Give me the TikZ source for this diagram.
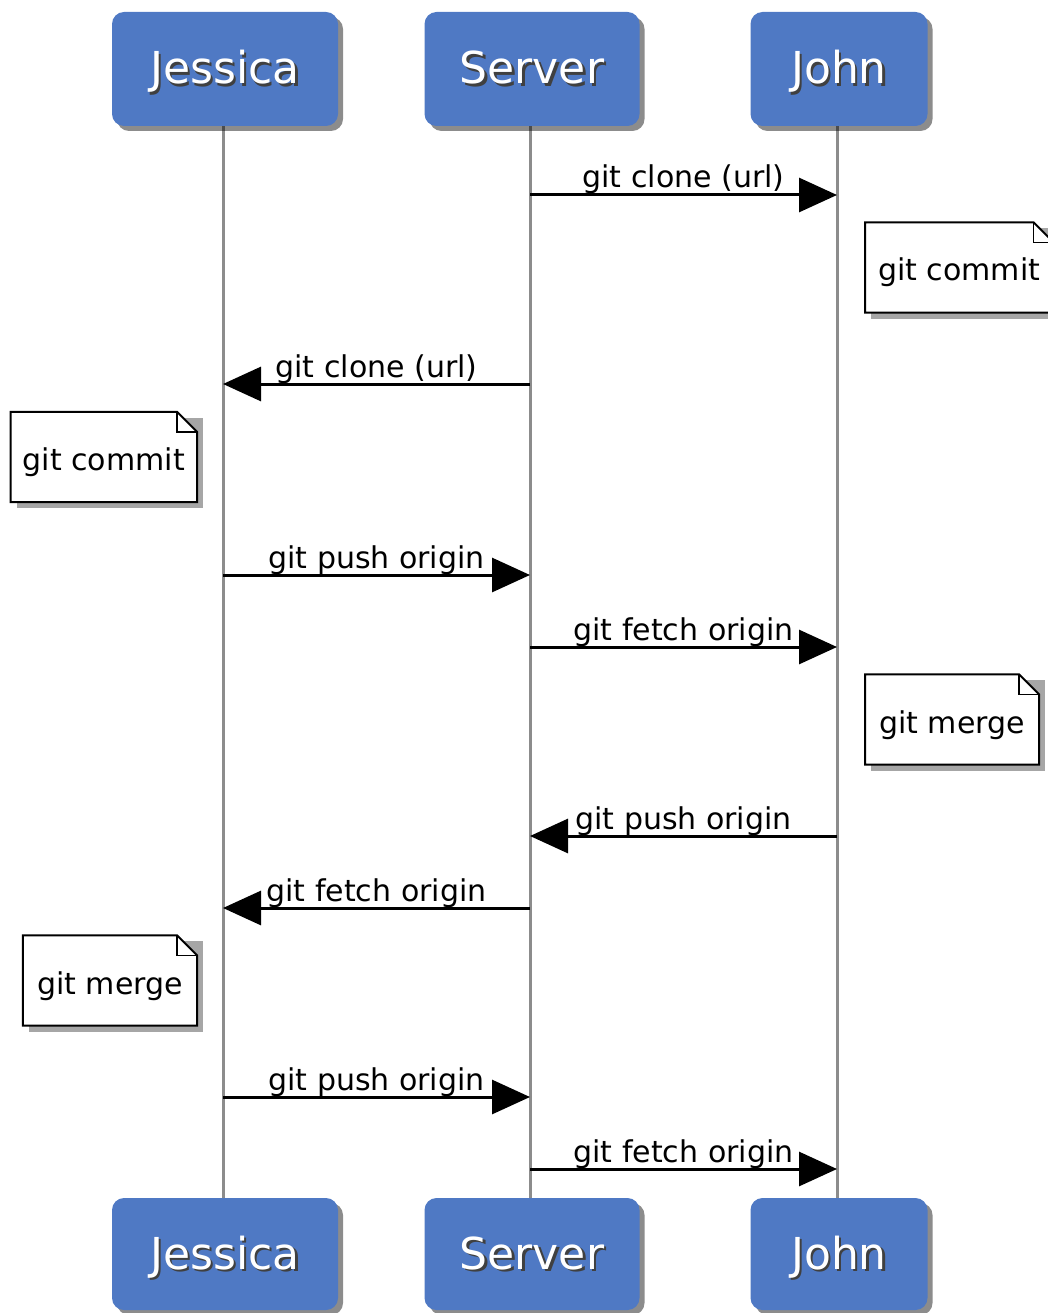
\documentclass[tikz,border=0pt]{standalone}
\usepackage{fontspec}
\setmainfont{DejaVu Sans}
\usetikzlibrary{arrows.meta,shadows,backgrounds}
\definecolor{hdr}{RGB}{79,121,196}
\definecolor{life}{RGB}{140,140,140}
\newcommand\hdrtxt[1]{{\color{black!75}\rlap{\hspace{2.5pt}\raisebox{-2.5pt}{#1}}}{\color{white}#1}}
\begin{document}
\begin{tikzpicture}[x=1pt,y=-1pt,
  actor/.style={rounded corners=12pt, fill=hdr, inner sep=0pt, minimum height=114pt,
    text height=36pt, text depth=6pt,
    font=\fontsize{44}{50}\selectfont,
    drop shadow={shadow xshift=5pt, shadow yshift=-5pt, opacity=.45, fill=black}},
  lifeline/.style={draw=life, line width=3pt},
  msg/.style={line width=3pt, -{Triangle[length=38pt,width=34pt]}},
  lbl/.style={midway, anchor=base, yshift=7pt, inner sep=0pt, font=\fontsize{30}{35}\selectfont},
  notetext/.style={inner xsep=13pt, inner ysep=0pt, minimum height=90pt,
    text height=27pt, text depth=0pt, font=\fontsize{30}{35}\selectfont},
  notebox/.style={fill=white, draw=black, line width=2pt, line join=miter},
  noteshadow/.style={fill=black, opacity=.35}
]
\useasboundingbox (0,0) rectangle (1047,1313);

% actors
\node[actor, minimum width=226pt] (jt) at (225,69) {\hdrtxt{Jessica}};
\node[actor, minimum width=215pt] (st) at (532,69) {\hdrtxt{Server}};
\node[actor, minimum width=177pt] (ht) at (839,69) {\hdrtxt{John}};
\node[actor, minimum width=226pt, minimum height=112pt] (jb) at (225,1254) {\hdrtxt{Jessica}};
\node[actor, minimum width=215pt, minimum height=112pt] (sb) at (532,1254) {\hdrtxt{Server}};
\node[actor, minimum width=177pt, minimum height=112pt] (hb) at (839,1254) {\hdrtxt{John}};

% lifeline coordinates
\coordinate (J) at (223,0);
\coordinate (S) at (530,0);
\coordinate (H) at (837,0);

\begin{scope}[on background layer]
\draw[lifeline] (J |- jt.south) -- (J |- jb.north);
\draw[lifeline] (S |- st.south) -- (S |- sb.north);
\draw[lifeline] (H |- ht.south) -- (H |- hb.north);
\end{scope}

% messages
\draw[msg] (S |- 0,195) -- (H |- 0,195) node[lbl] {git clone (url)};
\draw[msg] (S |- 0,384) -- (J |- 0,384) node[lbl] {git clone (url)};
\draw[msg] (J |- 0,575) -- (S |- 0,575) node[lbl] {git push origin};
\draw[msg] (S |- 0,647) -- (H |- 0,647) node[lbl] {git fetch origin};
\draw[msg] (H |- 0,836) -- (S |- 0,836) node[lbl] {git push origin};
\draw[msg] (S |- 0,908) -- (J |- 0,908) node[lbl] {git fetch origin};
\draw[msg] (J |- 0,1097) -- (S |- 0,1097) node[lbl] {git push origin};
\draw[msg] (S |- 0,1169) -- (H |- 0,1169) node[lbl] {git fetch origin};

% notes
\node[notetext, anchor=west] (n1) at (865,267.5) {git commit};
\node[notetext, anchor=east, inner xsep=12pt] (n2) at (197,457) {git commit};
\node[notetext, anchor=west, inner xsep=14pt] (n3) at (865,719.5) {git merge};
\node[notetext, anchor=east, inner xsep=14pt] (n4) at (197,980.5) {git merge};

\begin{scope}[on background layer]
\foreach \n in {n1,n2,n3,n4}{
  \fill[noteshadow] ([xshift=6pt,yshift=-6pt]\n.south west) -- ([xshift=6pt,yshift=-6pt]\n.north west)
     -- ([xshift=6pt,yshift=-6pt]\n.north east) -- ([xshift=6pt,yshift=-6pt]\n.south east) -- cycle;
  \path[notebox] (\n.south west) -- (\n.north west) -- ([xshift=-20pt]\n.north east)
     -- ([yshift=-20pt]\n.north east) -- (\n.south east) -- cycle;
  \draw[line width=1.5pt] ([xshift=-20pt]\n.north east) -- ([xshift=-20pt,yshift=-20pt]\n.north east)
     -- ([yshift=-20pt]\n.north east);
}
\end{scope}
\end{tikzpicture}
\end{document}
